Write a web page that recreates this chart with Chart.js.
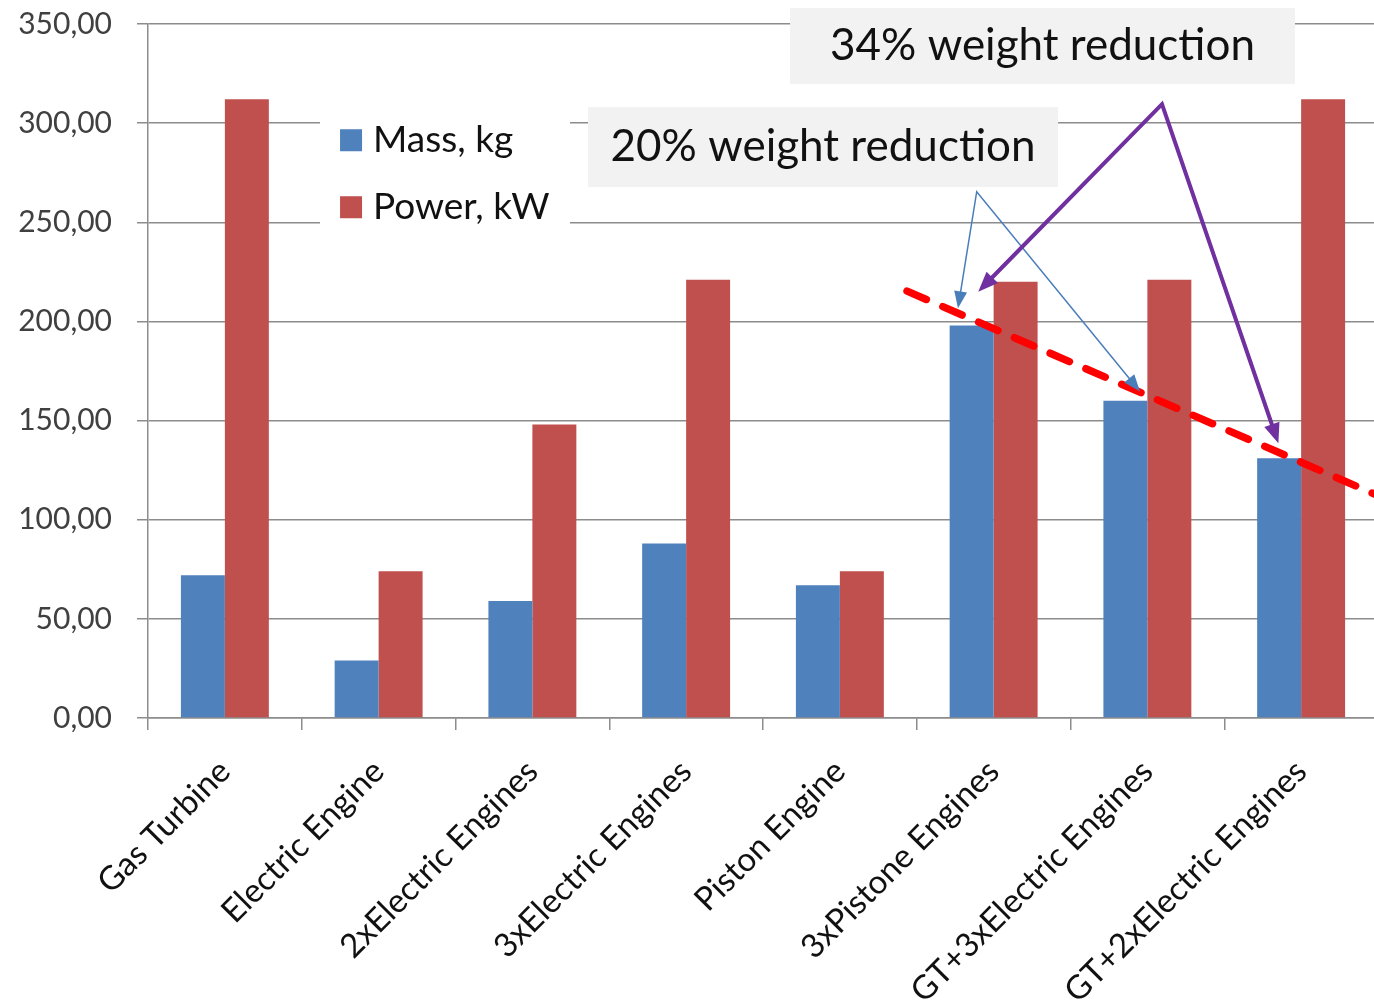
<!DOCTYPE html>
<html><head><meta charset="utf-8">
<script src="https://cdn.jsdelivr.net/npm/chart.js@4.4.0/dist/chart.umd.min.js"></script>
<style>
html,body{margin:0;padding:0;background:#fff;overflow:hidden;}
#wrap{position:relative;width:1380px;height:1003px;}
</style></head><body>
<div id="wrap"><canvas id="c"></canvas></div>
<script>
// ---- data ----
const categories = ['Gas Turbine','Electric Engine','2xElectric Engines','3xElectric Engines','Piston Engine','3xPistone Engines','GT+3xElectric Engines','GT+2xElectric Engines'];
const massKg = [72, 29, 59, 88, 67, 198, 160, 131];
const powerKw = [312, 74, 148, 221, 74, 220, 221, 312];
const seriesNames = ['Mass, kg', 'Power, kW'];
const yMin = 0, yMax = 350, yStep = 50;
const calloutTexts = ['34% weight reduction', '20% weight reduction'];

// ---- annotation anchors in data space (category index, value) ----
const calloutBoxes = [
  {x0: 3.676, x1: 6.96, y0: 358, y1: 319.7},
  {x0: 2.362, x1: 5.419, y0: 308.1, y1: 267.8}
];
const trendLine = {x0: 4.437, y0: 215.3, x1: 7.52, y1: 111.5};
const blueArrows = {from: [4.89, 265.4], to: [[4.768, 206.6], [5.952, 164.6]]};
const purpleArrows = {from: [6.095, 309.6], to: [[4.90, 215], [6.852, 138.5]]};
const legendBox = {x0: 0.619, x1: 2.245, y0: 306, y1: 245};

const FONT = 'Lato, "Open Sans", sans-serif';
const BLUE = '#4f81bd', RED = '#c0504d', GRID = '#8c8c8c';

function arrowHead(ctx, x0, y0, x1, y1, len, w) {
  const a = Math.atan2(y1 - y0, x1 - x0);
  const bx = x1 - len * Math.cos(a), by = y1 - len * Math.sin(a);
  ctx.beginPath();
  ctx.moveTo(x1, y1);
  ctx.lineTo(bx + w / 2 * Math.sin(a), by - w / 2 * Math.cos(a));
  ctx.lineTo(bx - w / 2 * Math.sin(a), by + w / 2 * Math.cos(a));
  ctx.closePath();
  ctx.fill();
}
function arrowPair(ctx, xs, ys, spec, color, width, len, w) {
  const fx = xs.getPixelForValue(spec.from[0]), fy = ys.getPixelForValue(spec.from[1]);
  const pts = spec.to.map(p => [xs.getPixelForValue(p[0]), ys.getPixelForValue(p[1])]);
  ctx.strokeStyle = color; ctx.fillStyle = color; ctx.lineWidth = width;
  ctx.lineJoin = 'miter'; ctx.lineCap = 'butt';
  const bases = pts.map(p => {
    const a = Math.atan2(p[1] - fy, p[0] - fx);
    return [p[0] - len * 0.8 * Math.cos(a), p[1] - len * 0.8 * Math.sin(a)];
  });
  ctx.beginPath();
  ctx.moveTo(bases[0][0], bases[0][1]);
  ctx.lineTo(fx, fy);
  ctx.lineTo(bases[1][0], bases[1][1]);
  ctx.stroke();
  pts.forEach(p => arrowHead(ctx, fx, fy, p[0], p[1], len, w));
}

const overlay = {
  id: 'overlay',
  afterDraw(chart) {
    const ctx = chart.ctx, xs = chart.scales.x, ys = chart.scales.y;
    ctx.save();
    // legend
    const lx0 = xs.getPixelForValue(legendBox.x0), lx1 = xs.getPixelForValue(legendBox.x1);
    const ly0 = ys.getPixelForValue(legendBox.y0), ly1 = ys.getPixelForValue(legendBox.y1);
    ctx.fillStyle = '#ffffff';
    ctx.fillRect(lx0, ly0, lx1 - lx0, ly1 - ly0);
    chart.data.datasets.forEach((ds, i) => {
      const cy = ly0 + 29 + i * 67;
      ctx.fillStyle = ds.backgroundColor;
      ctx.fillRect(lx0 + 20, cy - 11, 22, 22);
      ctx.fillStyle = '#111';
      ctx.font = '37px ' + FONT;
      ctx.textAlign = 'left'; ctx.textBaseline = 'middle';
      ctx.fillText(ds.label, lx0 + 53, cy);
    });
    // callout boxes
    calloutBoxes.forEach((b, i) => {
      const x0 = xs.getPixelForValue(b.x0), x1 = xs.getPixelForValue(b.x1);
      const y0 = ys.getPixelForValue(b.y0), y1 = ys.getPixelForValue(b.y1);
      ctx.fillStyle = '#f2f2f2';
      ctx.fillRect(x0, y0, x1 - x0, y1 - y0);
      ctx.fillStyle = '#111';
      ctx.font = '44px ' + FONT;
      ctx.textAlign = 'center'; ctx.textBaseline = 'middle';
      ctx.fillText(calloutTexts[i], (x0 + x1) / 2, (y0 + y1) / 2);
    });
    // red dashed trend line
    ctx.strokeStyle = '#ff0000'; ctx.lineWidth = 7.5; ctx.lineCap = 'round';
    ctx.setLineDash([21, 18]);
    ctx.beginPath();
    ctx.moveTo(xs.getPixelForValue(trendLine.x0), ys.getPixelForValue(trendLine.y0));
    ctx.lineTo(xs.getPixelForValue(trendLine.x1), ys.getPixelForValue(trendLine.y1));
    ctx.stroke();
    ctx.setLineDash([]);
    // arrows
    arrowPair(ctx, xs, ys, blueArrows, '#4a7ebb', 1.5, 17, 13);
    arrowPair(ctx, xs, ys, purpleArrows, '#7030a0', 4, 20, 16);
    ctx.restore();
  }
};

function zeroPad(s) { s.paddingTop = 0; s.paddingBottom = 0; s.paddingLeft = 0; s.paddingRight = 0; }

new Chart(document.getElementById('c'), {
  type: 'bar',
  data: {
    labels: categories,
    datasets: [
      {label: seriesNames[0], data: massKg, backgroundColor: BLUE, categoryPercentage: 0.572, barPercentage: 1},
      {label: seriesNames[1], data: powerKw, backgroundColor: RED, categoryPercentage: 0.572, barPercentage: 1}
    ]
  },
  options: {
    responsive: true, maintainAspectRatio: false, animation: false,
    layout: {padding: {top: 24, right: 2, left: 0, bottom: 0}},
    plugins: {legend: {display: false}, tooltip: {enabled: false}},
    scales: {
      x: {
        grid: {display: true, drawOnChartArea: false, drawTicks: true, tickLength: 12, color: GRID, lineWidth: 1.5, offset: true},
        border: {display: true, color: GRID, width: 1.5},
        ticks: {autoSkip: false, minRotation: 45, maxRotation: 45, color: '#111', padding: 22, font: {family: FONT, size: 33}},
        afterFit(s) { s.height = 285; zeroPad(s); }
      },
      y: {
        min: yMin, max: yMax,
        grid: {color: GRID, lineWidth: 1.5, tickLength: 11},
        border: {display: true, color: GRID, width: 1.5},
        ticks: {stepSize: yStep, padding: 25, color: '#404040', font: {family: FONT, size: 30},
          callback: v => v.toFixed(2).replace('.', ',')},
        afterFit(s) { s.width = 148; zeroPad(s); }
      }
    }
  },
  plugins: [overlay]
});
</script>
</body></html>
